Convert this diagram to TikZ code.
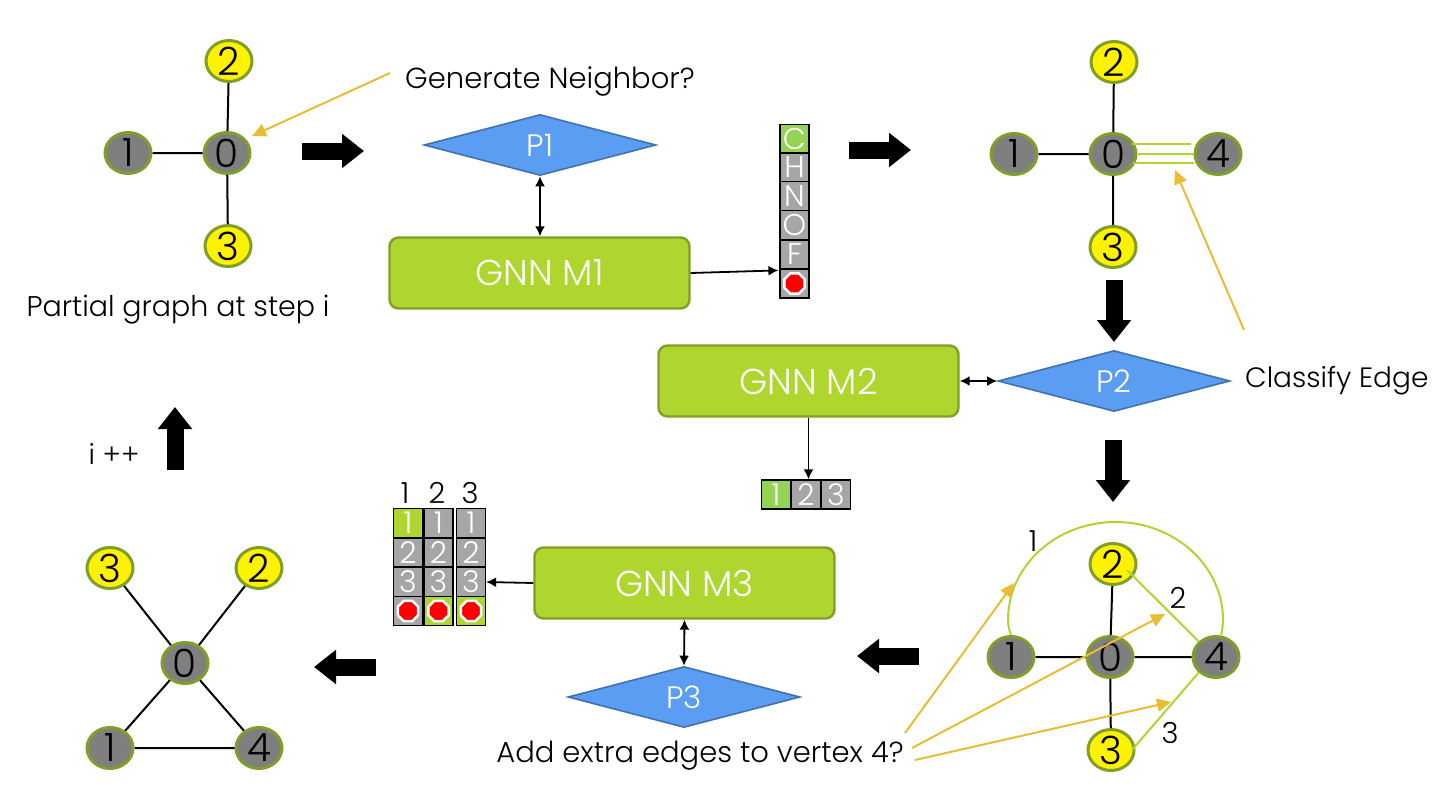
\documentclass[tikz,border=0pt]{standalone}
\usepackage{fontspec}
\setmainfont{Poppins}[UprightFont=* Light]
\usetikzlibrary{shapes.geometric,arrows.meta,calc}
\definecolor{olive}{HTML}{7F9F28}
\definecolor{vertexgray}{HTML}{7F7F7F}
\definecolor{lime}{HTML}{AED62F}
\definecolor{limeb}{HTML}{95D355}
\definecolor{skyblue}{HTML}{5B9DF2}
\definecolor{skyedge}{HTML}{3F72AF}
\definecolor{gold}{HTML}{E8BC33}
\definecolor{cellgray}{HTML}{A6A6A6}
\tikzset{
  x=1pt,y=-1pt,
  vertex/.style={ellipse,draw=olive,line width=3pt,minimum width=46pt,minimum height=41pt,inner sep=0pt,font=\fontsize{39}{39}\selectfont},
  graynode/.style={vertex,fill=vertexgray},
  yellownode/.style={vertex,fill=yellow},
  decision/.style={diamond,aspect=3.74,draw=skyedge,line width=1.6pt,fill=skyblue,text=white,inner sep=0pt,minimum width=232pt,minimum height=61pt,font=\fontsize{31}{31}\selectfont},
  gnn/.style={rectangle,rounded corners=9pt,draw=olive,line width=2.4pt,fill=lime,text=white,minimum width=300pt,minimum height=71pt,font=\fontsize{36}{36}\selectfont},
  edge/.style={line width=2pt,draw=black},
  thin arrow/.style={line width=1.8pt,draw=black,-{Latex[length=10pt,width=10pt]}},
  both arrow/.style={line width=1.8pt,draw=black,{Latex[length=10pt,width=10pt]}-{Latex[length=10pt,width=10pt]}},
  blockarrow/.style={line width=17pt,draw=black,-{Triangle[length=22pt,width=33pt]}},
  goldarrow/.style={line width=2pt,draw=gold,-{Triangle[length=14pt,width=13pt]}},
  greenedge/.style={line width=2pt,draw=lime},
  cell/.style={rectangle,draw=black,line width=1.2pt,fill=cellgray,text=white,minimum width=29pt,minimum height=29pt,inner sep=0pt,font=\fontsize{30}{30}\selectfont},
  limecell/.style={cell,fill=lime},
  limebcell/.style={cell,fill=limeb},
  stopsign/.style={regular polygon,regular polygon sides=8,draw=white,fill=red,line width=2.6pt,minimum size=22pt,inner sep=0pt},
  label/.style={font=\fontsize{29}{29}\selectfont,inner sep=0pt},
  small label/.style={font=\fontsize{29}{29}\selectfont,inner sep=0pt}
}
\begin{document}
\begin{tikzpicture}
\useasboundingbox (0,0) rectangle (1456,808);

% Partial graph at step i
\node[graynode] (a0) at (227,153) {0};
\node[graynode] (a1) at (128,153) {1};
\node[yellownode] (a2) at (229,61) {2};
\node[yellownode] (a3) at (228,246) {3};
\draw[edge] (a0)--(a1) (a0)--(a2) (a0)--(a3);
\node[label,anchor=west] (t1) at (405,81) {Generate Neighbor?};
\node[label,font=\fontsize{28.5}{29}\selectfont] (t2) at (178,310) {Partial graph at step i};
\coordinate (g1) at (390,73);
\coordinate (g1b) at (252,136);
\draw[goldarrow] (g1)--(g1b);

% First decision and model
\node[decision] (p1) at (540,145) {P1};
\node[gnn] (m1) at (539.5,273) {GNN M1};
\draw[both arrow] (p1.south)--(m1.north -| p1.south);

% Atom type column
\node[limebcell] (c1) at (794.5,139) {C};
\node[cell] (c2) at (794.5,167.5) {H};
\node[cell] (c3) at (794.5,196) {N};
\node[cell] (c4) at (794.5,225) {O};
\node[cell] (c5) at (794.5,254.5) {F};
\node[cell] (c6) at (794.5,283.5) {};
\node[stopsign] (s1) at (c6) {};
\draw[thin arrow] (m1.east)--($(c6.north west)+(-1,2)$);

% Graph with the new vertex
\node[graynode] (b0) at (1113,154) {0};
\node[graynode] (b1) at (1014,154) {1};
\node[yellownode] (b2) at (1114,62) {2};
\node[yellownode] (b3) at (1113,247) {3};
\node[graynode] (b4) at (1218,154) {4};
\draw[edge] (b0)--(b1) (b0)--(b2) (b0)--(b3);
\coordinate (e1) at (1132,144);
\coordinate (e2) at (1191,144);
\coordinate (e3) at (1194,163);
\coordinate (e4) at (1133,163);
\draw[greenedge] (e1)--(e2) (b0)--(b4) (e4)--(e3);
\node[label,anchor=west,font=\fontsize{28}{29}\selectfont] (t3) at (1245,381) {Classify Edge};
\coordinate (g2) at (1244,330);
\coordinate (g3) at (1175,170);
\draw[goldarrow] (g2)--(g3);

% Second decision and model
\node[decision] (p2) at (1114,381) {P2};
\node[gnn] (m2) at (808.5,381) {GNN M2};
\draw[both arrow] (m2.east)--(p2.west);
\node[limebcell] (r1) at (776,494.5) {1};
\node[cell] (r2) at (806,494.5) {2};
\node[cell] (r3) at (836,494.5) {3};
\draw[thin arrow] (m2.south)--(m2.south |- r2.north);

% Graph with candidate edges
\node[graynode] (d0) at (1110,657) {0};
\node[graynode] (d1) at (1011,657) {1};
\node[yellownode] (d2) at (1113,564) {2};
\node[yellownode] (d3) at (1111,750) {3};
\node[graynode] (d4) at (1216,657) {4};
\draw[edge] (d0)--(d1) (d0)--(d2) (d0)--(d3) (d0)--(d4);
\draw[greenedge] (d1.north) .. controls (1009,630) and (1008,625) .. (1008,620)
  .. controls (1008,566) and (1056,522) .. (1115.5,522)
  .. controls (1175,522) and (1223,566) .. (1223,620)
  .. controls (1223,625) and (1222,631) .. ($(d4.north)+(5,1)$);
\coordinate (d2in) at (1127,570);
\coordinate (d3in) at (1132,750);
\draw[greenedge] (d2in)--(d4.north west);
\draw[greenedge] (d3in)--(d4.south west);
\node[small label] (l1) at (1033,541) {1};
\node[small label] (l2) at (1178,598) {2};
\node[small label] (l3) at (1170,733) {3};

% Third decision and model
\node[gnn] (m3) at (684.5,583) {GNN M3};
\node[decision] (p3) at (684,697) {P3};
\draw[both arrow] (m3.south)--(p3.north);
\node[label] (t4) at (700,756) {Add extra edges to vertex 4?};
\coordinate (g4) at (905,733);
\coordinate (g5) at (1014,583);
\coordinate (g6) at (912,748);
\coordinate (g7) at (1165,614);
\coordinate (g8) at (915,760);
\coordinate (g9) at (1171,702);
\draw[goldarrow] (g4)--(g5);
\draw[goldarrow] (g6)--(g7);
\draw[goldarrow] (g8)--(g9);

% Edge choice matrix
\node[small label] (h1) at (405,493) {1};
\node[small label] (h2) at (437,493) {2};
\node[small label] (h3) at (470,493) {3};
\foreach \col/\x in {1/408,2/438.5,3/471}{
  \node[cell] (q\col1) at (\x,523) {1};
  \node[cell] (q\col2) at (\x,552.5) {2};
  \node[cell] (q\col3) at (\x,582) {3};
  \node[cell] (q\col4) at (\x,611) {};
}
\node[limecell] at (q11) {1};
\node[limecell] at (q24) {};
\node[limecell] at (q34) {};
\foreach \col in {1,2,3}{ \node[stopsign] (st\col) at (q\col4) {}; }
\draw[thin arrow] (m3.west)--(q33.east);

% Resulting graph
\node[graynode] (f0) at (185,663) {0};
\node[graynode] (f1) at (110,748) {1};
\node[yellownode] (f2) at (259,568) {2};
\node[yellownode] (f3) at (110,568) {3};
\node[graynode] (f4) at (259,748) {4};
\draw[edge] (f0)--(f1) (f0)--(f2) (f0)--(f3) (f0)--(f4) (f1)--(f4);
\node[label,font=\fontsize{28}{29}\selectfont] (t5) at (114,454) {i ++};

% Block arrows between the stages
\coordinate (k1) at (302,151); \coordinate (k2) at (364,151);
\coordinate (k3) at (849,150); \coordinate (k4) at (911,150);
\coordinate (k5) at (1114,280); \coordinate (k6) at (1114,342);
\coordinate (k7) at (1113,440); \coordinate (k8) at (1113,502);
\coordinate (k9) at (919,656); \coordinate (k10) at (857,656);
\coordinate (k11) at (376,667); \coordinate (k12) at (314,667);
\coordinate (k13) at (175,470); \coordinate (k14) at (175,407);
\draw[blockarrow] (k1)--(k2);
\draw[blockarrow] (k3)--(k4);
\draw[blockarrow] (k5)--(k6);
\draw[blockarrow] (k7)--(k8);
\draw[blockarrow] (k9)--(k10);
\draw[blockarrow] (k11)--(k12);
\draw[blockarrow] (k13)--(k14);
\end{tikzpicture}
\end{document}
